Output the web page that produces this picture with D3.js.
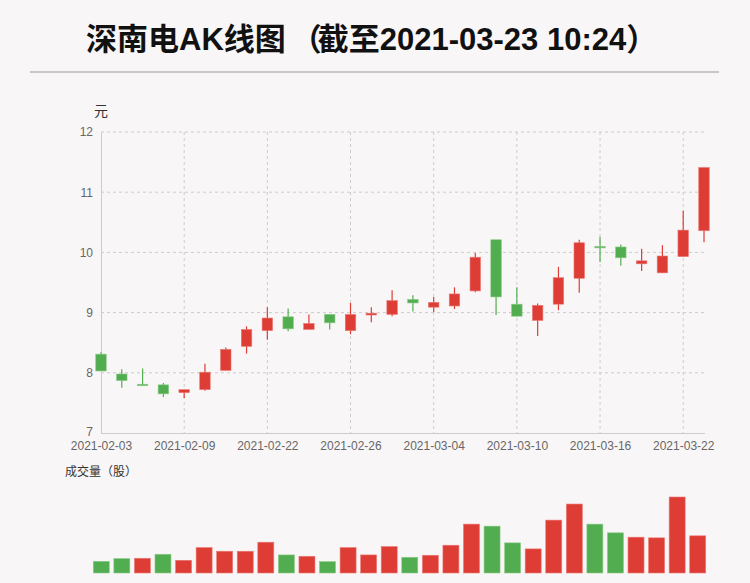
<!DOCTYPE html>
<html>
<head>
<meta charset="utf-8">
<script src="https://cdn.jsdelivr.net/npm/d3@7"></script>
<style>
  body { margin: 0; background: #f9f6f7; }
  svg { display: block; font-family: "Liberation Sans", Arial, "Noto Sans CJK SC", sans-serif; }
</style>
</head>
<body>
<div class="chart"></div>
<script>
// trading days shown on the chart
const dates = ["2021-02-03","2021-02-04","2021-02-05","2021-02-08","2021-02-09","2021-02-10",
  "2021-02-18","2021-02-19","2021-02-22","2021-02-23","2021-02-24","2021-02-25","2021-02-26",
  "2021-03-01","2021-03-02","2021-03-03","2021-03-04","2021-03-05","2021-03-08","2021-03-09",
  "2021-03-10","2021-03-11","2021-03-12","2021-03-15","2021-03-16","2021-03-17","2021-03-18",
  "2021-03-19","2021-03-22","2021-03-23"];

const opens  = [8.31,7.98,7.81,7.80,7.67,7.72,8.04,8.44,8.70,8.93,8.72,8.97,8.70,8.96,8.97,
                9.22,9.09,9.11,9.36,10.21,9.14,8.87,9.14,9.57,10.10,10.09,9.81,9.66,9.93,10.36];
const closes = [8.03,7.87,7.81,7.65,7.72,8.01,8.39,8.72,8.91,8.73,8.82,8.83,8.97,8.99,9.20,
                9.16,9.17,9.31,9.92,9.26,8.94,9.12,9.58,10.16,10.08,9.91,9.86,9.94,10.37,11.41];
const highs  = [8.34,8.06,8.07,7.83,7.72,8.15,8.42,8.77,9.09,9.07,8.97,8.97,9.16,9.09,9.37,
                9.29,9.26,9.42,9.99,10.21,9.42,9.15,9.76,10.21,10.26,10.13,10.06,10.12,10.69,11.41];
const lows   = [8.03,7.75,7.79,7.60,7.58,7.70,8.04,8.32,8.55,8.69,8.72,8.72,8.64,8.84,8.94,
                9.02,9.01,9.06,9.34,8.96,8.94,8.61,9.04,9.33,9.84,9.78,9.69,9.66,9.93,10.17];

// volume in shares, and whether its bar is red (1) or green (0)
const volumes = [700000,860000,880000,1120000,760000,1520000,1300000,1300000,1840000,1080000,
                 1000000,680000,1520000,1080000,1580000,940000,1060000,1660000,2920000,2800000,
                 1800000,1440000,3160000,4120000,2920000,2400000,2140000,2100000,4540000,2220000];
const volumeUp = [0,0,1,0,1,1,1,1,1,0,1,0,1,1,1,0,1,1,1,0,0,1,1,1,0,0,1,1,1,1];

const priceTicks = [7,8,9,10,11,12];
const dateTicks = ["2021-02-03","2021-02-09","2021-02-22","2021-02-26","2021-03-04",
                   "2021-03-10","2021-03-16","2021-03-22"];

const titleRuns = ["深南电", "AK", "线图", "（", "截至", "2021-03-23 10:24", "）"];

const red = "#dd3d35", green = "#52ad50";

const width = 750, height = 583;
const plotLeft = 101, plotRight = 704, plotTop = 132, plotBottom = 433;

const svg = d3.select(".chart").append("svg")
    .attr("width", width)
    .attr("height", height);

svg.append("rect").attr("width", width).attr("height", height).attr("fill", "#f9f6f7");

// title: CJK runs in Noto, latin runs in Liberation; small nudge around the bracket
const isCJK = s => /[\u3000-\u9fff\uff00-\uffef]/.test(s);
const titleShift = { 3: 5, 4: -4 };
svg.append("text")
    .attr("x", 86).attr("y", 50)
    .attr("font-size", 31).attr("font-weight", "bold").attr("fill", "#111")
  .selectAll("tspan")
  .data(titleRuns)
  .enter().append("tspan")
    .attr("font-family", d => isCJK(d) ? "Noto Sans CJK SC" : "Liberation Sans")
    .attr("dx", (d, i) => titleShift[i] || 0)
    .text(d => d);

svg.append("line")
    .attr("x1", 30).attr("x2", 719).attr("y1", 72).attr("y2", 72)
    .attr("stroke", "#c8c6c7").attr("stroke-width", 2);

const x = d3.scalePoint().domain(dates).range([plotLeft, plotRight]);
const y = d3.scaleLinear().domain([7, 12]).range([plotBottom, plotTop]);

// grid
svg.append("g").selectAll("line")
  .data(priceTicks.slice(1))
  .enter().append("line")
    .attr("x1", plotLeft).attr("x2", plotRight)
    .attr("y1", d => y(d)).attr("y2", d => y(d))
    .attr("stroke", "#ccc").attr("stroke-dasharray", "3,3");

svg.append("g").selectAll("line")
  .data(dateTicks.slice(1))
  .enter().append("line")
    .attr("x1", d => x(d)).attr("x2", d => x(d))
    .attr("y1", plotTop).attr("y2", plotBottom)
    .attr("stroke", "#ccc").attr("stroke-dasharray", "3,3");

// axes
const yAxis = svg.append("g")
    .attr("transform", `translate(${plotLeft},0)`)
    .call(d3.axisLeft(y).tickValues(priceTicks).tickFormat(d3.format("d"))
      .tickSize(0).tickPadding(8));
yAxis.select(".domain").attr("stroke", "#ccc");
yAxis.selectAll("text").attr("fill", "#666").attr("font-size", 12)
    .attr("font-family", "Liberation Sans, Arial, sans-serif");
// lift the bottom label a touch so it clears the date below
yAxis.selectAll(".tick").filter(d => d === 7).select("text").attr("dy", "0.2em");

const xAxis = svg.append("g")
    .attr("transform", `translate(0,${plotBottom})`)
    .call(d3.axisBottom(x).tickValues(dateTicks).tickSize(0).tickPadding(8));
xAxis.select(".domain").attr("stroke", "#ccc").attr("d", `M${plotLeft},0.5H${plotRight + 1}`);
xAxis.selectAll("text").attr("fill", "#666").attr("font-size", 12)
    .attr("font-family", "Liberation Sans, Arial, sans-serif");

svg.append("text")
    .attr("x", 101).attr("y", 116).attr("text-anchor", "middle")
    .attr("font-size", 14).attr("fill", "#333")
    .attr("font-family", "Noto Sans CJK SC, sans-serif")
    .text("元");

// candles
const candles = dates.map((d, i) => {
  let up;
  if (closes[i] > opens[i]) up = true;
  else if (closes[i] < opens[i]) up = false;
  else up = i > 0 ? closes[i] > closes[i - 1] : true;
  return { date: d, open: opens[i], close: closes[i], high: highs[i], low: lows[i], up: up };
});

const bodyW = 10.5;
const candle = svg.append("g").selectAll("g")
  .data(candles)
  .enter().append("g");

candle.append("line")
    .attr("x1", d => x(d.date)).attr("x2", d => x(d.date))
    .attr("y1", d => y(d.high)).attr("y2", d => y(d.low))
    .attr("stroke", d => d.up ? red : green).attr("stroke-width", 1.2);

candle.append("rect")
    .attr("x", d => x(d.date) - bodyW / 2)
    .attr("width", bodyW)
    .attr("y", d => y(Math.max(d.open, d.close)))
    .attr("height", d => Math.max(1.5, Math.abs(y(d.open) - y(d.close))))
    .attr("fill", d => d.up ? red : green)
    .attr("stroke", d => d.up ? "#ec7a74" : "#8ccc8a")
    .attr("stroke-width", 0.6);

// volume
svg.append("text")
    .attr("x", 65).attr("y", 476)
    .attr("font-size", 12).attr("fill", "#333")
    .attr("font-family", "Noto Sans CJK SC, sans-serif")
    .text("成交量（股）");

const xv = d3.scaleBand().domain(dates).range([91, 708]);
const yv = d3.scaleLinear().domain([0, d3.max(volumes)]).range([573, 497]);
const barW = 16;

svg.append("g").selectAll("rect")
  .data(volumes)
  .enter().append("rect")
    .attr("x", (d, i) => xv(dates[i]) + xv.bandwidth() / 2 - barW / 2)
    .attr("width", barW)
    .attr("y", d => yv(d))
    .attr("height", d => yv(0) - yv(d))
    .attr("fill", (d, i) => volumeUp[i] ? red : green)
    .attr("stroke", (d, i) => volumeUp[i] ? "#ec7a74" : "#8ccc8a")
    .attr("stroke-width", 0.6);
</script>
</body>
</html>
